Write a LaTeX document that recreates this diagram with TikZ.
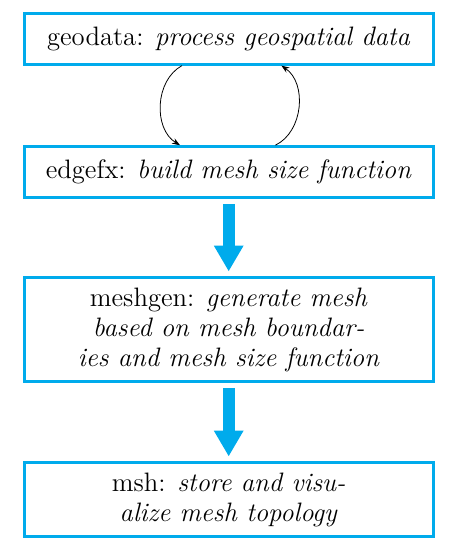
\documentclass[tikz,border=0pt]{standalone}
\usetikzlibrary{positioning,arrows.meta}

\definecolor{boxblue}{RGB}{0,171,236}

\tikzset{
  block/.style={draw=boxblue, line width=1.5pt, minimum width=205.5pt,
    minimum height=25.5pt, align=center, inner sep=5pt,
    font=\fontsize{13.4}{15}\selectfont},
  bigarrow/.style={draw=boxblue, line width=6pt,
    -{Triangle[width=14pt,length=13pt]}, shorten <=2.5pt, shorten >=2.5pt},
  cycleedge/.style={-{Stealth[length=4pt,width=3pt]}, bend right=60}
}

\begin{document}
\begin{tikzpicture}

    % Define nodes

    \node[block]                        (geodata){geodata: \textit{process geospatial data}}; %
    \node[block, below=40pt of geodata] (edgefx){edgefx: \textit{build mesh size function}}; %
    \node[block, below=39pt of edgefx]  (meshgen){meshgen: \textit{generate mesh}\\
      \textit{based on mesh boundar-}\\ \textit{ies and mesh size function}}; %
    \node[block, below=39.5pt of meshgen] (msh){msh: \textit{store and visu-}\\
      \textit{alize mesh topology}}; %

    % Connect the nodes
    \draw[cycleedge] ([xshift=-23.5pt]geodata.south) to ([xshift=-24.5pt]edgefx.north);
    \draw[cycleedge] ([xshift=23.5pt]edgefx.north) to ([xshift=26.5pt]geodata.south);
    \draw[bigarrow] (edgefx) -- (meshgen);
    \draw[bigarrow] (meshgen) -- (msh);

    % Margins
    \useasboundingbox ([shift={(-11.5pt,6pt)}]geodata.north west)
      rectangle ([shift={(7.5pt,-7pt)}]msh.south east);

  \end{tikzpicture}
\end{document}
